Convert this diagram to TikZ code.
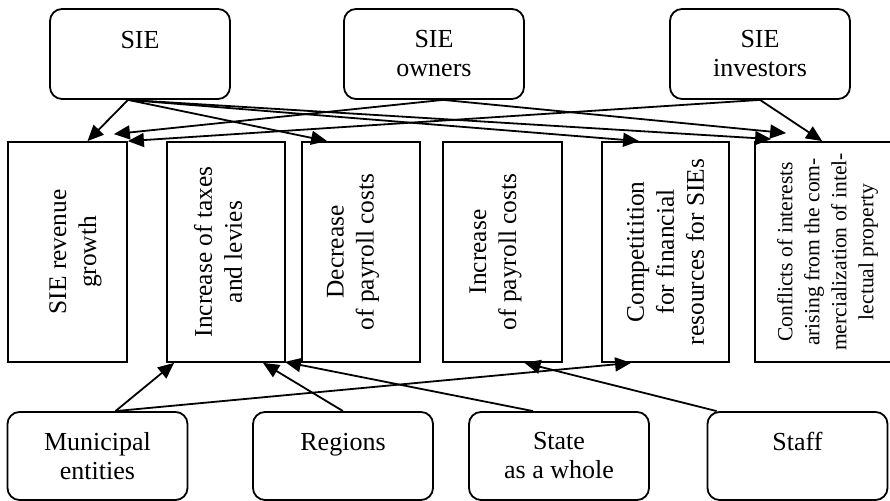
\documentclass[tikz,border=0pt]{standalone}
\usepackage{fontspec}
\setmainfont{Liberation Serif}
\usetikzlibrary{arrows.meta,calc}

\begin{document}
\begin{tikzpicture}[x=0.5pt,y=-0.5pt,
  party/.style={draw,rounded corners=6pt,line width=0.9pt,minimum width=90pt,minimum height=45pt,inner sep=0pt,align=center,font=\fontsize{13}{14.5}\selectfont},
  issue/.style={draw,line width=0.9pt,minimum height=110pt,inner sep=0pt},
  issuetxt/.style={rotate=90,align=center,inner sep=0pt,font=\fontsize{12.7}{15}\selectfont},
  link/.style={-{Triangle[length=8pt,width=7pt]},line width=0.9pt}]
\useasboundingbox (0,0) rectangle (890,501);

% stakeholders on top
\node[party] (sie) at (140,54) {SIE\\\mbox{}};
\node[party] (owners) at (434,54) {SIE\\owners};
\node[party] (investors) at (760,54) {SIE\\investors};

% interests in the middle row
\node[issue,minimum width=59.5pt] (revenue) at (67.5,252) {};
\node[issuetxt] (revenue-txt) at ($(revenue)+(8,0)$) {SIE revenue\\growth};
\node[issue,minimum width=59pt] (taxes) at (226,252) {};
\node[issuetxt] (taxes-txt) at ($(taxes)+(-8,0)$) {Increase of taxes\\and levies};
\node[issue,minimum width=59pt] (paydown) at (361,252) {};
\node[issuetxt] (paydown-txt) at ($(paydown)+(-8,0)$) {Decrease\\of payroll costs};
\node[issue,minimum width=59.5pt] (payup) at (502.5,252) {};
\node[issuetxt] (payup-txt) at ($(payup)+(-7,0)$) {Increase\\of payroll costs};
\node[issue,minimum width=63.5pt] (funds) at (665.5,252) {};
\node[issuetxt] (funds-txt) at (funds) {Competitition\\for financial\\resources for SIEs};
\node[issue,minimum width=72.5pt] (conflicts) at (827.5,252) {};
\node[issuetxt,font=\fontsize{10.8}{13.5}\selectfont] (conflicts-txt) at (conflicts) {Conflicts of interests\\arising from the com-\\mercialization of intel-\\lectual property};

% stakeholders at the bottom
\node[party,minimum height=44pt] (municipal) at (97.5,456) {Municipal\\entities};
\node[party,minimum height=44pt] (regions) at (343,456) {Regions\\\mbox{}};
\node[party,minimum height=44pt] (state) at (559,456) {State\\as a whole};
\node[party,minimum height=44pt] (staff) at (797.5,456) {Staff\\\mbox{}};

% upper links
\coordinate (sie-out) at ($(sie.south)+(-12,0)$);
\draw[link] (sie-out) -- ($(revenue.north)+(20,0)$);
\draw[link] (sie-out) -- ($(paydown.north west)+(26,0)$);
\draw[link] (sie-out) -- ($(funds.north west)+(38,0)$);
\draw[link] (sie-out) -- ($(conflicts.north west)+(17,-2)$);
\coordinate (owners-out) at ($(owners.south)+(9,0)$);
\draw[link] (owners-out) -- ($(revenue.north east)+(-14,-7)$);
\draw[link] (owners-out) -- ($(conflicts.north west)+(32,-8)$);
\draw[link] (investors.south) -- (revenue.north east);
\draw[link] (investors.south) -- ($(conflicts.north west)+(68,0)$);

% lower links
\coordinate (municipal-out) at ($(municipal.north)+(18,0)$);
\draw[link] (municipal-out) -- ($(taxes.south west)+(8,0)$);
\draw[link] (municipal-out) -- ($(funds.south west)+(30,0)$);
\draw[link] (regions.north) -- ($(taxes.south)+(37,0)$);
\draw[link] ($(state.north)+(-26,0)$) -- ($(taxes.south east)+(-1,-1)$);
\draw[link] ($(staff.north west)+(10,0)$) -- ($(payup.south)+(22,0)$);
\end{tikzpicture}
\end{document}
